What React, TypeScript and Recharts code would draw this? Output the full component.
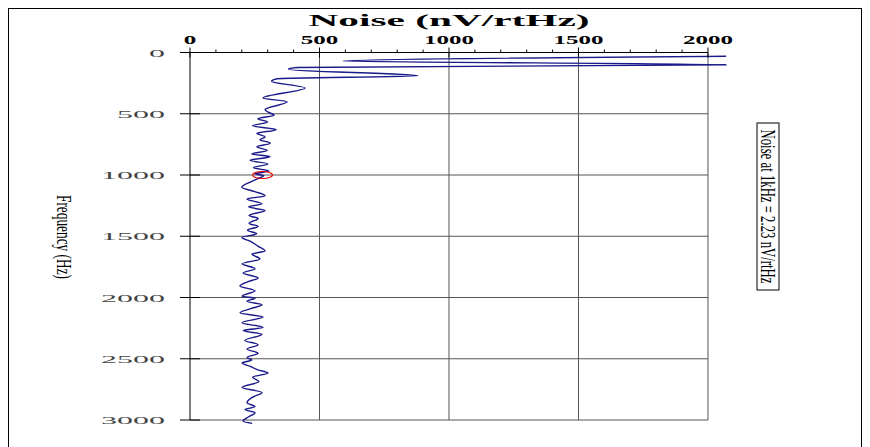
import { LineChart, Line, XAxis, YAxis, ReferenceLine, ReferenceDot } from 'recharts';

// frequency (Hz) and noise (nV/rtHz), top to bottom
const FREQ_HZ = [
  30, 70, 100, 122, 136, 190, 214, 235, 290, 371,
  403, 466, 485, 512, 540, 568, 598, 630, 660, 690,
  712, 740, 770, 800, 828, 850, 880, 910, 940, 968,
  990, 1005, 1030, 1060, 1100, 1135, 1170, 1195, 1235, 1260,
  1290, 1330, 1355, 1395, 1420, 1450, 1480, 1510, 1540, 1580,
  1620, 1645, 1685, 1725, 1765, 1800, 1840, 1870, 1905, 1945,
  1990, 2005, 2030, 2060, 2090, 2125, 2160, 2205, 2245, 2270,
  2300, 2350, 2385, 2420, 2455, 2490, 2510, 2535, 2560, 2590,
  2617, 2650, 2685, 2735, 2775, 2815, 2860, 2890, 2915, 2940,
  2975, 3010, 3027,
];

const NOISE = [
  2070, 590, 2070, 413, 380, 880, 336, 315, 444, 282,
  375, 290, 300, 325, 262, 300, 242, 333, 258, 290,
  270, 310, 258, 298, 239, 309, 232, 301, 245, 305,
  250, 285, 262, 230, 200, 250, 290, 220, 278, 226,
  290, 228, 263, 228, 263, 222, 258, 201, 232, 262,
  290, 239, 270, 201, 251, 205, 263, 225, 193, 251,
  201, 251, 220, 278, 235, 193, 282, 201, 282, 205,
  278, 212, 263, 220, 263, 220, 239, 201, 230, 262,
  301, 242, 266, 201, 278, 240, 220, 251, 212, 251,
  225, 205, 240,
];

const NOISE_TICKS = [0, 100, 200, 300, 400, 500, 600, 700, 800, 900, 1000, 1100, 1200, 1300, 1400, 1500, 1600, 1700, 1800, 1900, 2000];
const NOISE_LABELS = [0, 500, 1000, 1500, 2000];
const FREQ_TICKS = [0, 500, 1000, 1500, 2000, 2500, 3000];
const MARK_FREQ = 1000;
const MARK_NOISE = 280;

const data = FREQ_HZ.map((f, i) => ({ freq: f, noise: NOISE[i] }));

const SERIF = '"Liberation Serif", "Times New Roman", serif';
const GRID = '#555';
const AXIS_H = 30;

function TopTick(props: any) {
  const { x, y, payload } = props;
  const v = payload.value as number;
  const major = NOISE_LABELS.includes(v);
  if (!major) {
    return <line x1={x} x2={x} y1={y - 3} y2={y} stroke="#000" strokeWidth={1} />;
  }
  const s = String(v);
  return (
    <g>
      <line x1={x} x2={x} y1={y - 5} y2={y + 5} stroke="#000" strokeWidth={1} />
      <text
        x={x}
        y={y - 9}
        textAnchor="middle"
        fontFamily={SERIF}
        fontWeight={700}
        fontSize={13}
        fill="#000"
        textLength={s.length * 12.5}
        lengthAdjust="spacingAndGlyphs"
      >
        {s}
      </text>
    </g>
  );
}

function LeftTick(props: any) {
  const { x, y, payload } = props;
  const s = String(payload.value);
  return (
    <g>
      <line x1={x - 10} x2={x + 10} y1={y} y2={y} stroke="#000" strokeWidth={1} />
      <text
        x={x - 25}
        y={y + 4}
        textAnchor="end"
        fontFamily={SERIF}
        fontSize={11}
        fill="#444"
        textLength={s.length * 16}
        lengthAdjust="spacingAndGlyphs"
      >
        {s}
      </text>
    </g>
  );
}

export default function App() {
  return (
    <div style={{ position: 'relative', width: 852, height: 445, border: '1px solid #000', background: '#fff' }}>
      <LineChart
        layout="vertical"
        width={852}
        height={438}
        data={data}
        margin={{ top: 43.5 - AXIS_H, right: 134.9, left: 81, bottom: 23.3 }}
      >
        <XAxis
          type="number"
          dataKey="noise"
          orientation="top"
          domain={[0, 2070]}
          ticks={NOISE_TICKS}
          interval={0}
          height={AXIS_H}
          axisLine={false}
          tickLine={false}
          tickSize={0}
          tickMargin={0}
          tick={TopTick}
        />
        <YAxis
          type="number"
          dataKey="freq"
          domain={[0, 3030]}
          ticks={FREQ_TICKS}
          interval={0}
          width={100}
          axisLine={false}
          tickLine={false}
          tickSize={0}
          tickMargin={0}
          tick={LeftTick}
        />
        {FREQ_TICKS.map((f) => (
          <ReferenceLine
            key={'h' + f}
            segment={[{ x: 0, y: f }, { x: 2000, y: f }]}
            stroke={f === 0 ? '#000' : GRID}
            strokeWidth={1}
          />
        ))}
        {NOISE_LABELS.map((n) => (
          <ReferenceLine
            key={'v' + n}
            segment={[{ x: n, y: 0 }, { x: n, y: 3000 }]}
            stroke={n === 0 ? '#000' : GRID}
            strokeWidth={1}
          />
        ))}
        <Line
          type="monotone"
          dataKey="noise"
          stroke="#1a1a8a"
          strokeWidth={1.4}
          dot={false}
          isAnimationActive={false}
        />
        <ReferenceDot
          x={MARK_NOISE}
          y={MARK_FREQ}
          shape={(p: any) => (
            <ellipse cx={p.cx} cy={p.cy} rx={10} ry={3.5} fill="none" stroke="#e00" strokeWidth={1.2} />
          )}
        />
      </LineChart>
      <svg
        width={852}
        height={438}
        style={{ position: 'absolute', left: 0, top: 0, pointerEvents: 'none' }}
      >
        <text
          x={440}
          y={17}
          textAnchor="middle"
          fontFamily={SERIF}
          fontWeight={700}
          fontSize={17}
          textLength={281}
          lengthAdjust="spacingAndGlyphs"
        >
          Noise (nV/rtHz)
        </text>
        <text
          transform="translate(55 228) rotate(90)"
          textAnchor="middle"
          dominantBaseline="central"
          fontFamily={SERIF}
          fontSize={22}
          textLength={84}
          lengthAdjust="spacingAndGlyphs"
        >
          Frequency (Hz)
        </text>
        <rect x={748} y={114} width={22} height={167} fill="#fff" stroke="#000" strokeWidth={1} />
        <text
          transform="translate(759 197.5) rotate(90)"
          textAnchor="middle"
          dominantBaseline="central"
          fontFamily={SERIF}
          fontSize={20}
          textLength={154}
          lengthAdjust="spacingAndGlyphs"
        >
          Noise at 1kHz  = 2.23 nV/rtHz
        </text>
      </svg>
    </div>
  );
}
